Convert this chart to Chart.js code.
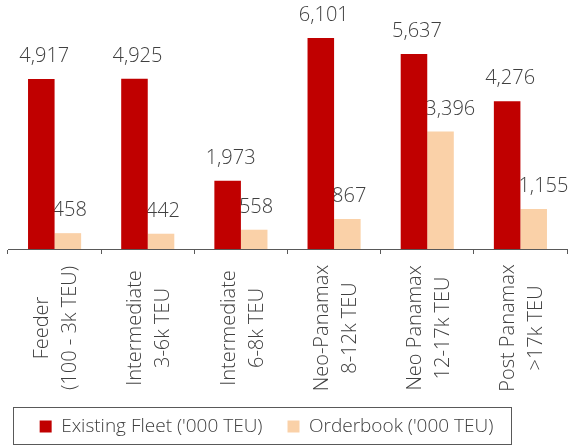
<!DOCTYPE html>
<html>
<head>
<meta charset="utf-8">
<title>Container fleet and orderbook</title>
<script src="https://cdn.jsdelivr.net/npm/chart.js@4"></script>
<style>
  html, body { margin: 0; padding: 0; background: #fff; }
  #wrap { width: 573px; height: 446px; position: relative; }
</style>
</head>
<body>
<div id="wrap"><canvas id="graficoFrota"></canvas></div>
<script>
// dados
const categories = [
  ['Feeder', '(100 - 3k TEU)'],
  ['Intermediate', '3-6k TEU'],
  ['Intermediate', '6-8k TEU'],
  ['Neo-Panamax', '8-12k TEU'],
  ['Neo Panamax', '12-17k TEU'],
  ['Post Panamax', '>17k TEU']
];
const seriesNames = ["Existing Fleet ('000 TEU)", "Orderbook ('000 TEU)"];
const existingFleet = [4917, 4925, 1973, 6101, 5637, 4276];
const orderbook = [458, 442, 558, 867, 3396, 1155];

const textColor = '#404040';
Chart.defaults.font.family = "'Open Sans', sans-serif";
Chart.defaults.font.weight = 300;
Chart.defaults.color = textColor;

// rótulos de valor acima das barras (desenhados por baixo das barras)
const valueLabels = {
  id: 'valueLabels',
  beforeDatasetsDraw(chart) {
    const ctx = chart.ctx;
    ctx.save();
    ctx.font = "300 20px 'Open Sans', sans-serif";
    ctx.fillStyle = textColor;
    ctx.textBaseline = 'alphabetic';
    chart.data.datasets.forEach(function(ds, di) {
      chart.getDatasetMeta(di).data.forEach(function(bar, i) {
        const txt = ds.data[i].toLocaleString('en-US');
        if (di === 0) {
          ctx.textAlign = 'center';
          ctx.fillText(txt, bar.x + 3, bar.y - 17);
        } else {
          ctx.textAlign = 'left';
          ctx.fillText(txt, bar.x - bar.width / 2 - 2, bar.y - 17);
        }
      });
    });
    ctx.restore();
  }
};

// rótulos do eixo x, verticais e centralizados
const xLabels = {
  id: 'xLabels',
  afterDraw(chart) {
    const ctx = chart.ctx;
    const xs = chart.scales.x;
    const lineH = 28;
    ctx.save();
    ctx.font = "300 20px 'Open Sans', sans-serif";
    ctx.fillStyle = textColor;
    ctx.textAlign = 'center';
    ctx.textBaseline = 'middle';
    categories.forEach(function(lines, i) {
      const x = xs.getPixelForValue(i) + 2;
      ctx.save();
      ctx.translate(x, 328);
      ctx.rotate(-Math.PI / 2);
      lines.forEach(function(t, j) {
        ctx.fillText(t, 0, (j - (lines.length - 1) / 2) * lineH);
      });
      ctx.restore();
    });
    ctx.restore();
  }
};

// legenda deslocada e com moldura
const legendBox = {
  id: 'legendBox',
  afterLayout(chart) {
    chart.legend.left -= 21;
    chart.legend.right -= 21;
  },
  afterDraw(chart) {
    const ctx = chart.ctx;
    ctx.save();
    ctx.strokeStyle = '#595959';
    ctx.lineWidth = 1;
    ctx.strokeRect(13.5, 407.5, 498, 37);
    ctx.restore();
  }
};

const ctx = document.getElementById('graficoFrota').getContext('2d');
new Chart(ctx, {
  type: 'bar',
  data: {
    labels: categories,
    datasets: [{
      label: seriesNames[0],
      data: existingFleet,
      backgroundColor: '#C00000'
    }, {
      label: seriesNames[1],
      data: orderbook,
      backgroundColor: '#FAD1A8'
    }]
  },
  options: {
    responsive: true,
    maintainAspectRatio: false,
    animation: false,
    categoryPercentage: 0.57,
    barPercentage: 1.0,
    layout: {
      padding: { top: 7, left: 8, right: 6, bottom: 0 }
    },
    scales: {
      x: {
        grid: {
          offset: true,
          drawOnChartArea: false,
          tickLength: 5,
          color: '#595959'
        },
        border: { color: '#595959', width: 1 },
        ticks: { display: false },
        afterFit: function(scale) { scale.height = 143; }
      },
      y: {
        display: false,
        min: 0,
        max: 7000
      }
    },
    plugins: {
      legend: {
        position: 'bottom',
        labels: {
          boxWidth: 12,
          boxHeight: 12,
          padding: 25,
          color: textColor,
          font: { size: 19, weight: 300 }
        }
      },
      tooltip: { enabled: false }
    }
  },
  plugins: [valueLabels, xLabels, legendBox]
});
</script>
</body>
</html>
